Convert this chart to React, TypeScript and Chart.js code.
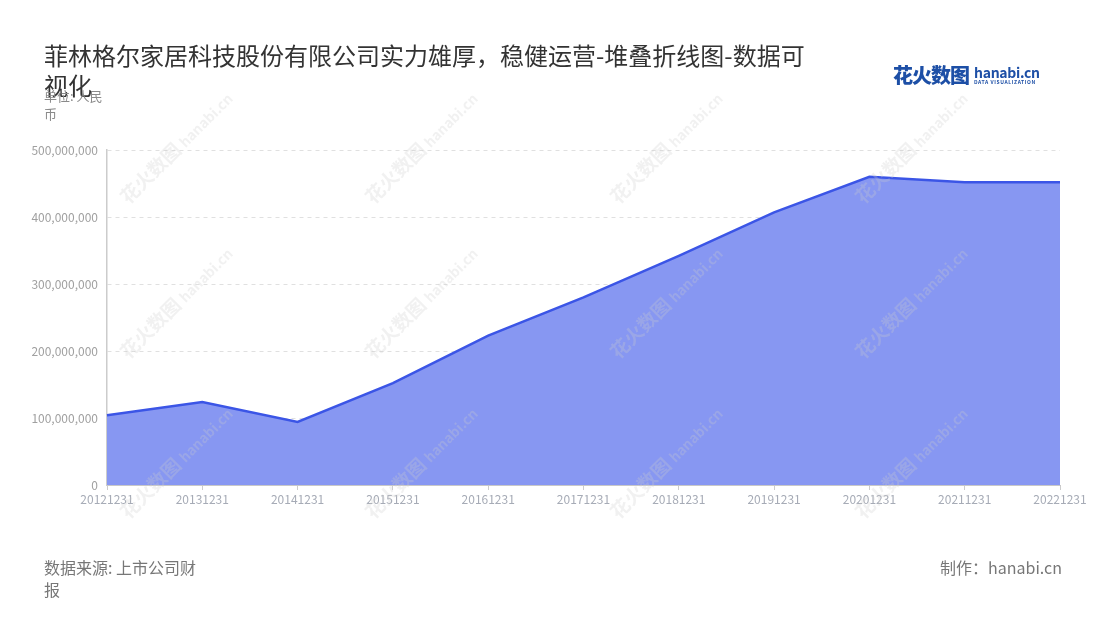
import React, { useEffect, useRef } from "react";
import { Chart, registerables } from "chart.js";

Chart.register(...registerables);

const categories = [
  "20121231", "20131231", "20141231", "20151231", "20161231", "20171231",
  "20181231", "20191231", "20201231", "20211231", "20221231",
];
const seriesValues = [
  104000000, 124000000, 94000000, 152000000, 223000000, 280000000,
  342000000, 407000000, 460000000, 452000000, 452000000,
];
const seriesName = "营业收入";
const yTickMax = 500000000;
const yTickStep = 100000000;

const FONT = '"Noto Sans CJK SC", "Noto Sans", sans-serif';

const watermarkX = [165, 410, 655, 900];
const watermarkY = [155, 310, 470];

export default function App() {
  const canvasRef = useRef<HTMLCanvasElement | null>(null);

  useEffect(() => {
    if (!canvasRef.current) return;
    const chart = new Chart(canvasRef.current, {
      type: "line",
      data: {
        labels: categories,
        datasets: [
          {
            label: seriesName,
            data: seriesValues,
            borderColor: "#3b55e6",
            borderWidth: 2.5,
            backgroundColor: "#8797f2",
            fill: "origin",
            pointRadius: 0,
            tension: 0,
          },
        ],
      },
      options: {
        animation: false,
        responsive: false,
        maintainAspectRatio: false,
        layout: { padding: { left: 0, top: 150, right: 40, bottom: 105 } },
        plugins: {
          legend: { display: false },
          tooltip: { enabled: false },
        },
        scales: {
          x: {
            offset: false,
            afterFit: (scale: any) => {
              scale.height = 30;
            },
            grid: {
              drawOnChartArea: false,
              drawTicks: true,
              tickLength: 5,
              color: "#cccccc",
            },
            border: { color: "#c8c8c8", width: 1 },
            ticks: {
              color: "#a6abb6",
              font: { family: FONT, size: 12 },
              padding: 2,
              maxRotation: 0,
              autoSkip: false,
            },
          },
          y: {
            min: 0,
            max: yTickMax,
            afterFit: (scale: any) => {
              scale.width = 107;
            },
            grid: {
              color: "#e0e0e0",
              drawTicks: false,
            },
            border: { color: "#cccccc", width: 1.5, dash: [4, 4] },
            ticks: {
              stepSize: yTickStep,
              color: "#a0a0a0",
              font: { family: FONT, size: 12 },
              padding: 9,
              callback: (v: any) => Number(v).toLocaleString("en-US"),
            },
          },
        },
      },
    });
    return () => chart.destroy();
  }, []);

  return (
    <div
      style={{
        position: "fixed",
        left: 0,
        top: 0,
        width: 1100,
        height: 620,
        background: "#ffffff",
        fontFamily: FONT,
        overflow: "hidden",
      }}
    >
      <canvas
        ref={canvasRef}
        width={1100}
        height={620}
        style={{ position: "absolute", left: 0, top: 0, width: 1100, height: 620 }}
      />
      {watermarkX.map((x) =>
        watermarkY.map((y) => (
          <div
            key={`${x}-${y}`}
            style={{
              position: "absolute",
              left: x - 60,
              top: y - 12,
              width: 120,
              textAlign: "center",
              transform: "rotate(-45deg)",
              color: "rgba(205,205,205,0.28)",
              fontSize: 19,
              fontWeight: 700,
              whiteSpace: "nowrap",
              pointerEvents: "none",
            }}
          >
            花火数图 <span style={{ fontSize: 14 }}>hanabi.cn</span>
          </div>
        ))
      )}
      <div
        style={{
          position: "absolute",
          left: 44,
          top: 40,
          width: 770,
          fontSize: 24,
          lineHeight: "30px",
          color: "#333333",
        }}
      >
        菲林格尔家居科技股份有限公司实力雄厚，稳健运营-堆叠折线图-数据可视化
      </div>
      <div
        style={{
          position: "absolute",
          left: 44,
          top: 87,
          width: 64,
          fontSize: 13,
          lineHeight: "18px",
          color: "#8a8a8a",
        }}
      >
        单位: 人民币
      </div>
      <div
        style={{
          position: "absolute",
          left: 893,
          top: 60,
          display: "flex",
          alignItems: "center",
          color: "#1d4fa6",
        }}
      >
        <span style={{ fontSize: 20, fontWeight: 900, letterSpacing: -1 }}>
          花火数图
        </span>
        <span style={{ display: "inline-block", marginLeft: 5, lineHeight: 1 }}>
          <span style={{ display: "block", fontSize: 14, fontWeight: 700, letterSpacing: -0.3 }}>
            hanabi.cn
          </span>
          <span style={{ display: "block", fontSize: 5, letterSpacing: 0.6, fontWeight: 700 }}>
            DATA VISUALIZATION
          </span>
        </span>
      </div>
      <div
        style={{
          position: "absolute",
          left: 44,
          top: 556,
          width: 160,
          fontSize: 16,
          lineHeight: "22px",
          color: "#777777",
        }}
      >
        数据来源: 上市公司财报
      </div>
      <div
        style={{
          position: "absolute",
          right: 38,
          top: 556,
          fontSize: 16,
          lineHeight: "22px",
          color: "#777777",
        }}
      >
        制作：hanabi.cn
      </div>
    </div>
  );
}
